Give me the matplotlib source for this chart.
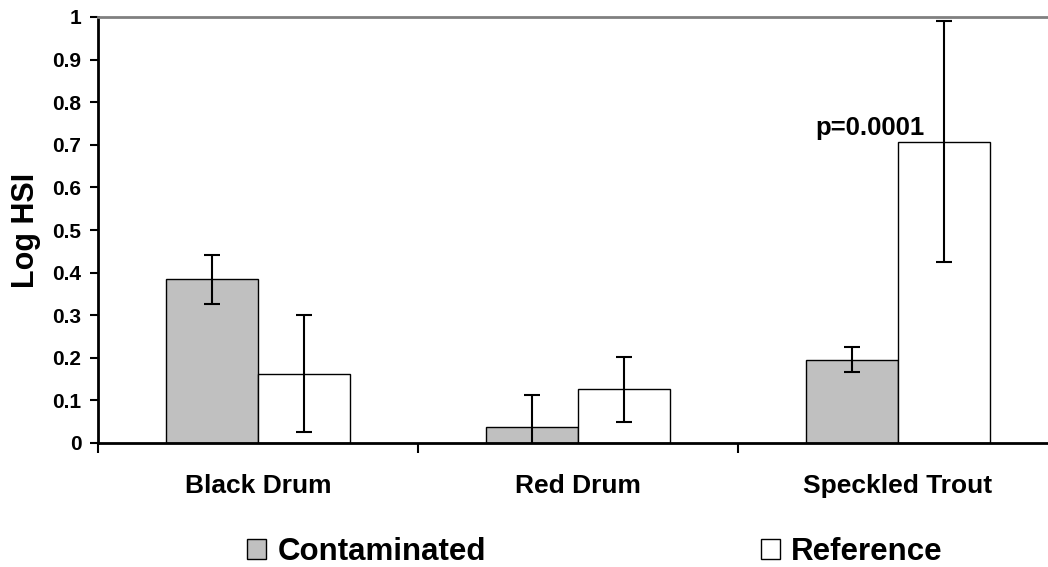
import numpy as np
import matplotlib
matplotlib.use("Agg")
import matplotlib.pyplot as plt
from matplotlib.patches import Patch

plt.rcParams['font.family'] = ['Liberation Sans', 'DejaVu Sans']
plt.rcParams['font.weight'] = 'bold'

species = ["Black Drum", "Red Drum", "Speckled Trout"]
contaminated = [0.384, 0.037, 0.196]
contaminated_err = [0.057, 0.076, 0.030]
reference = [0.163, 0.126, 0.707]
reference_err = [0.137, 0.076, 0.283]
yticks = [0, 0.1, 0.2, 0.3, 0.4, 0.5, 0.6, 0.7, 0.8, 0.9, 1]
ytick_labels = ["0", "0.1", "0.2", "0.3", "0.4", "0.5", "0.6", "0.7", "0.8", "0.9", "1"]

fig = plt.figure(figsize=(10.48, 5.67), dpi=100)
# plot area runs a bit past the right edge, like the original
ax = fig.add_axes([98/1048, 1 - 443/567, 960/1048, 426/567])

x = np.arange(len(species))
w = 0.2875
err_kw = dict(ecolor='black', elinewidth=1.5, capsize=6, capthick=1.5)

ax.bar(x - w/2, contaminated, w, color='#c0c0c0', edgecolor='black', linewidth=1.0,
       yerr=contaminated_err, error_kw=err_kw, label='Contaminated')
ax.bar(x + w/2, reference, w, color='white', edgecolor='black', linewidth=1.0,
       yerr=reference_err, error_kw=err_kw, label='Reference')

ax.text(1.912, 0.723, "p=0.0001", ha='center', va='baseline', fontsize=18.5, fontweight='bold')

ax.set_xlim(-0.5, 2.5)
ax.set_ylim(0, 1)
ax.set_yticks(yticks)
ax.set_yticklabels(ytick_labels)
ax.set_xticks(x)
ax.set_xticklabels(species)
ax.set_xticks([-0.5, 0.5, 1.5, 2.5], minor=True)

ax.tick_params(axis='y', direction='out', length=6, width=1.5, pad=6, labelsize=15)
ax.tick_params(axis='x', which='major', length=0, pad=22, labelsize=19)
ax.tick_params(axis='x', which='minor', direction='out', length=7, width=1.5)

for lab in ax.get_xticklabels() + ax.get_yticklabels():
    lab.set_fontweight('bold')

ax.spines['left'].set_linewidth(2)
ax.spines['bottom'].set_linewidth(2)
ax.spines['top'].set_color('#808080')
ax.spines['top'].set_linewidth(2)
ax.spines['right'].set_visible(False)

ax.set_ylabel("Log HSI", fontsize=22, fontweight='bold', labelpad=8)

handles = [Patch(facecolor='#c0c0c0', edgecolor='black', linewidth=1.0, label='Contaminated'),
           Patch(facecolor='white', edgecolor='black', linewidth=1.0, label='Reference')]
leg = fig.legend(handles=handles, loc='center left', bbox_to_anchor=(247/1048, 1 - 552/567),
                 ncol=2, frameon=False, handlelength=0.62, handleheight=0.62,
                 handletextpad=0.35, columnspacing=8.8, borderpad=0, borderaxespad=0,
                 prop={'weight': 'bold', 'size': 22.5})

fig.savefig("out.png", dpi=100)
